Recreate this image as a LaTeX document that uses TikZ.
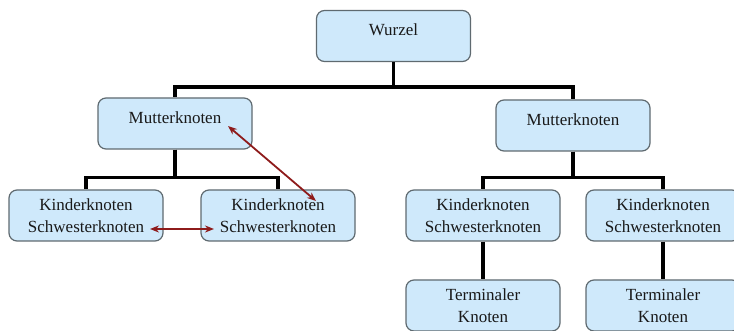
\documentclass[tikz,border=0pt]{standalone}
\usepackage{fontspec}
\setmainfont{Liberation Serif}
\usepackage{tikz}
\usetikzlibrary{calc}
\usetikzlibrary{arrows.meta}
\usepackage{xcolor}

\definecolor{boxfill}{HTML}{CFE9FB}
\definecolor{boxrand}{HTML}{5F6A70}
\definecolor{pfeilrot}{HTML}{8E1B1B}

\begin{document}
\begin{tikzpicture}[x=1pt, y=-1pt,
  knoten/.style={draw=boxrand, fill=boxfill, rounded corners=8pt, line width=1.2pt, minimum width=154pt, minimum height=51pt, align=center, text=black!90, font=\fontsize{17}{22}\selectfont, inner sep=0},
  einzeilig/.style={text height=12pt, text depth=12pt},
  ast/.style={line width=3.6pt, black},
  bezug/.style={{Stealth[length=9pt,width=7pt]}-{Stealth[length=9pt,width=7pt]}, pfeilrot, line width=1.8pt}]
\useasboundingbox (0,0) rectangle (734,331);
\clip (0,0) rectangle (734,331);

\node[knoten, einzeilig] (wurzel) at (393.5,36) {Wurzel};

\node[knoten, einzeilig] (mutter1) at (175,123.5) {Mutterknoten};
\node[knoten, einzeilig] (mutter2) at (573,125.5) {Mutterknoten};

\node[knoten] (kind1) at (86,215.5) {Kinderknoten\\Schwesterknoten};
\node[knoten] (kind2) at (278,215.5) {Kinderknoten\\Schwesterknoten};
\node[knoten] (kind3) at (483,215.5) {Kinderknoten\\Schwesterknoten};
\node[knoten] (kind4) at (663,215.5) {Kinderknoten\\Schwesterknoten};

\node[knoten] (blatt1) at (483,305.5) {Terminaler\\Knoten};
\node[knoten] (blatt2) at (663,305.5) {Terminaler\\Knoten};

\draw[ast] (wurzel.south) -- ++(0,25) -| (mutter1.north);
\draw[ast] (wurzel.south) -- ++(0,25) -| (mutter2.north);

\draw[ast] (mutter1.south) -- ++(0,28) -| (kind1.north);
\draw[ast] (mutter1.south) -- ++(0,28) -| (kind2.north);
\draw[ast] (mutter2.south) -- ++(0,26) -| (kind3.north);
\draw[ast] (mutter2.south) -- ++(0,26) -| (kind4.north);

\draw[ast] (kind3.south) -- (blatt1.north);
\draw[ast] (kind4.south) -- (blatt2.north);

% Verwandtschaft
\coordinate (r1) at (228,126);
\coordinate (r2) at (316,201);
\draw[bezug] (r1) -- (r2);

\coordinate (s1) at (150,229);
\coordinate (s2) at (214,229);
\draw[bezug] (s1) -- (s2);

\end{tikzpicture}
\end{document}
